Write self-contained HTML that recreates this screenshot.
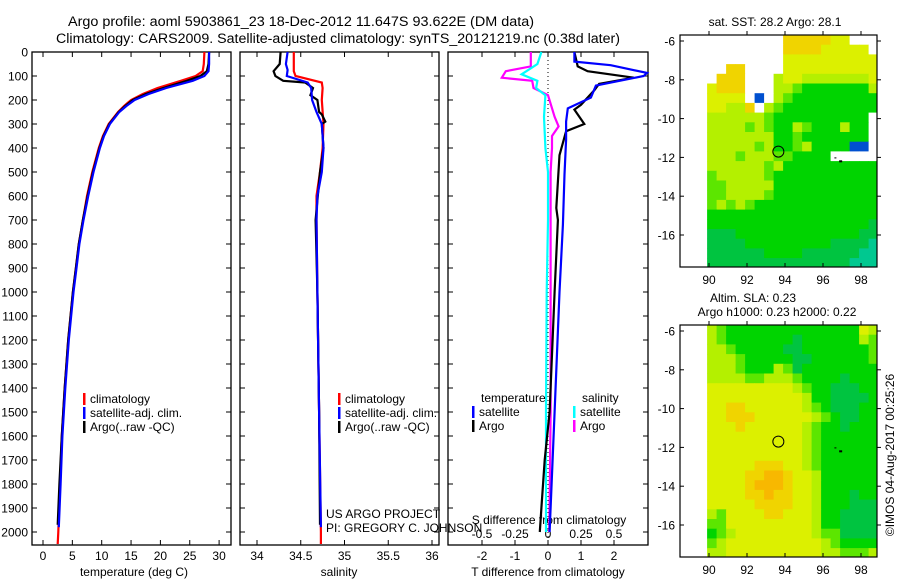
<!DOCTYPE html>
<html><head><meta charset="utf-8"><style>
html,body{margin:0;padding:0;background:#fff;}
svg{display:block;font-family:"Liberation Sans",sans-serif;}
</style></head><body>
<svg id="chart" width="900" height="580" viewBox="0 0 900 580" xmlns="http://www.w3.org/2000/svg">
<rect width="900" height="580" fill="#fff"/>
<text x="68" y="26" font-size="13.5" textLength="466" lengthAdjust="spacingAndGlyphs">Argo profile: aoml 5903861_23 18-Dec-2012 11.647S 93.622E (DM data)</text>
<text x="56" y="43" font-size="13.5" textLength="564" lengthAdjust="spacingAndGlyphs">Climatology: CARS2009. Satellite-adjusted climatology: synTS_20121219.nc (0.38d later)</text>
<g id="g"></g>
</svg>
<script>
// ---- data ----
const depthTicks=[0,100,200,300,400,500,600,700,800,900,1000,1100,1200,1300,1400,1500,1600,1700,1800,1900,2000];
const tempTicks=[0,5,10,15,20,25,30];
const salTicks=[34,34.5,35,35.5,36];
const tdTicks=[-2,-1,0,1,2];
const sdTicks=[-0.5,-0.25,0,0.25,0.5];
const sdTickLabels=["-0.5","-0.25","0","0.25","0.5"];

const tDepth=[0,50,80,100,120,150,175,200,225,250,300,350,400,500,600,700,800,900,1000,1200,1400,1600,1800,2000,2050];
const tClim=[27.5,27.4,27.2,26.0,23.5,19.5,17.0,15.0,13.8,12.8,11.2,10.2,9.5,8.4,7.5,6.8,6.1,5.6,5.1,4.3,3.7,3.2,2.9,2.6,2.5];
const tSatDepth=[0,50,80,100,120,150,175,200,225,250,300,350,400,500,600,700,800,900,1000,1200,1400,1600,1800,1980];
const tSat=[28.3,28.3,28.2,27.5,25.5,21.0,18.0,15.6,14.2,13.0,11.4,10.4,9.7,8.6,7.7,6.9,6.2,5.7,5.2,4.4,3.8,3.3,3.0,2.7];
const tArgoDepth=[0,50,80,100,120,150,175,200,225,250,300,350,400,500,600,700,800,900,1000,1200,1400,1600,1800,1970];
const tArgo=[28.3,28.2,27.9,26.8,24.5,20.5,17.5,15.3,14.0,12.9,11.3,10.3,9.6,8.5,7.6,6.8,6.1,5.6,5.1,4.3,3.7,3.2,2.8,2.5];

const sDepth=[0,80,100,127,150,200,300,400,500,600,700,1000,1500,2000,2050];
const sClim=[34.42,34.42,34.44,34.74,34.75,34.74,34.76,34.75,34.72,34.68,34.68,34.69,34.71,34.73,34.73];
const sSatDepth=[0,50,75,100,127,150,200,250,300,400,500,600,700,1000,1500,1980];
const sSat=[34.35,34.33,34.35,34.34,34.58,34.62,34.63,34.68,34.74,34.76,34.74,34.69,34.68,34.69,34.71,34.73];
const sArgoDepth=[0,50,80,100,120,127,150,180,200,250,260,290,300,400,500,700,1000,1500,1970];
const sArgo=[34.27,34.26,34.19,34.21,34.30,34.55,34.64,34.61,34.69,34.71,34.74,34.78,34.74,34.76,34.72,34.67,34.69,34.71,34.72];

const dtSatDepth=[0,40,55,87,100,140,190,235,290,365,510,720,1000,1500,2000];
const dtSat=[0.8,0.8,1.9,3.0,2.9,1.45,1.3,0.6,0.55,0.55,0.5,0.45,0.35,0.2,0.05];
const dtArgoDepth=[0,60,80,107,133,160,220,240,300,330,430,650,700,1000,1500,1700,1900,2000];
const dtArgo=[0.8,0.9,1.2,2.6,1.55,1.4,1.0,0.8,1.1,0.55,0.35,0.25,0.3,0.2,0.05,-0.1,-0.2,-0.25];
const dsArgoDepth=[0,60,80,107,120,150,180,270,310,350,400,500,700,1000,1500,2000];
const dsArgo=[-0.13,-0.13,-0.32,-0.35,-0.12,-0.11,0.0,0.05,0.08,0.03,0.03,0.02,0.02,0.02,0.02,0.01];
const dsSatDepth=[0,50,93,120,150,180,270,400,500,700,1000,1500,2000];
const dsSat=[-0.05,-0.08,-0.2,-0.08,-0.09,-0.02,-0.03,-0.02,0.0,0.0,-0.01,-0.015,-0.015];

const sstGrid=[
"wwwwwwwwYYYYYyywww","wwwwwwwwYYYYyyyyyw","wwwwwwwwyyyyyyyyyy","wwYYwwwwyyyyyyyyyy",
"wYYYwwwlyyllllllly","yYYYwwwllgGGGGGGGl","yyyywbwlgGGGGGGGGG","yyllYwlgGGGGGGGGGG",
"llllllgGGGGGGGGGGw","llllglgGGlgGGGlGGw","lllllllGGgGGGGGGGw","lllllglGGglGGGGbbw",
"lllglllggGGGGwwwww","llllllglGGGGGGGGGG","glllllgGGGGGGGGGGG","gglllllGGGGGGGGGGG",
"ggllllgGGGGGGGGGGG","glglgGGGGGGGGGGGGG","GGGGGGGGGGGGGGGGGG","GGGGGGGGGGGGGGGGGd",
"dddGGGGGGGGGGGGGdd","ddddGGGGGGGGGddddt","ddddddGGGGddddddtt","dddddddddddddddttt"];
const slaGrid=[
"lgGGGGGGGGGGGGGGyl","lgGGGGGGGdGGGGGGlg","llgGGGGGddGGGGGGGg","lllgGGGGGddGGGGGGg",
"lllgGGGlgdGGGGGGGG","llllgglllgGGGGdGGG","yyyyyyyyylgGGdddGG","yyyyyyyyyylGGddddG",
"yyYYyyyyyylgGdddGG","yyYYYyyyyyylgGddGG","yyyYyyyyyylgGGdGGG","yyyyyyyyyylgGGGGGG",
"yyyyyyyyyylgGGGGGG","yyyyyyyyyylgGGGGGG","yyyyyYYYyylgGGGGGG","yyyyYYOOYyylGGGGGG",
"yyyyYOOOYyylGGGGGG","yyyyYYOYYyylGGGdGG","yyyyyYYYYyylGGGddd","lgyyyyYYyyylGGdddd",
"ggyyyyyyyyylGGdddd","Gglyyyyyyyylggdddd","glyyyyyyyyyylgGGGG","llyyyyyyyyyyllgggl"];
const mapLonTicks=[90,92,94,96,98];
const mapLatTicks=[-6,-8,-10,-12,-14,-16];
const argoLon=93.65, argoLat=-11.7;

// ---- helpers ----
const NS="http://www.w3.org/2000/svg";
const G=document.getElementById('g');
function mk(tag,attrs,parent){const e=document.createElementNS(NS,tag);for(const k in attrs)e.setAttribute(k,attrs[k]);(parent||G).appendChild(e);return e;}
const TOP=52, PXM=0.24, BOT=545;
const yD=d=>TOP+d*PXM;
const xT=t=>43+t*5.87;
const xS=s=>257+(s-34)*87.5;
const xDT=v=>548+v*33;
const xDS=v=>548+v*132;

// panels
const panels=[[32,231,'temperature-panel'],[240,439,'salinity-panel'],[448,648,'difference-panel']];
panels.forEach(p=>{
  const r=mk('rect',{x:p[0],y:TOP,width:p[1]-p[0],height:BOT-TOP,fill:'none',stroke:'#000','stroke-width':1.3});
  
  
  depthTicks.forEach(d=>{
    mk('line',{x1:p[0],x2:p[0]+5,y1:yD(d),y2:yD(d),stroke:'#000'});
    mk('line',{x1:p[1],x2:p[1]-5,y1:yD(d),y2:yD(d),stroke:'#000'});
  });
});
depthTicks.forEach(d=>{
  const t=mk('text',{x:28,y:yD(d)+4.5,'font-size':12,'text-anchor':'end'});
  t.textContent=d;
  
  
});
function xTicks(vals,fx,labels,y0,ly){
  vals.forEach((v,i)=>{
    mk('line',{x1:fx(v),x2:fx(v),y1:BOT,y2:BOT-5,stroke:'#000'});
    mk('line',{x1:fx(v),x2:fx(v),y1:TOP,y2:TOP+5,stroke:'#000'});
    const t=mk('text',{x:fx(v),y:ly,'font-size':12,'text-anchor':'middle'});
    t.textContent=labels?labels[i]:v;
    
    
  });
}
xTicks(tempTicks,xT,null,BOT,560);
xTicks(salTicks,xS,null,BOT,560);
xTicks(tdTicks,xDT,null,BOT,560);
sdTicks.forEach((v,i)=>{
  const t=mk('text',{x:xDS(v),y:538,'font-size':12,'text-anchor':'middle'});
  t.textContent=sdTickLabels[i];
  
  
});
function label(txt,x,y,name,anchor){
  const t=mk('text',{x:x,y:y,'font-size':12,'text-anchor':anchor||'middle'});
  t.textContent=txt;
  
  
  return t;
}
label('temperature (deg C)',134,576,'x-axis-title-temperature');
label('salinity',339,576,'x-axis-title-salinity');
label('T difference from climatology',548,576,'x-axis-title-t-difference');
label('S difference from climatology',549,524,'s-difference-title');
mk('line',{x1:548,x2:548,y1:TOP,y2:BOT,stroke:'#000','stroke-dasharray':'1,3'});

function line(ds,vs,fx,color,name){
  const pts=ds.map((d,i)=>fx(vs[i]).toFixed(1)+','+yD(d).toFixed(1)).join(' ');
  const pl=mk('polyline',{points:pts,fill:'none',stroke:color,'stroke-width':2.2,'stroke-linejoin':'miter'});
  
  
}
line(tDepth,tClim,xT,'#ff0000','temperature-climatology-line');
line(tArgoDepth,tArgo,xT,'#000','temperature-argo-line');
line(tSatDepth,tSat,xT,'#0000ff','temperature-satellite-line');
line(sDepth,sClim,xS,'#ff0000','salinity-climatology-line');
line(sArgoDepth,sArgo,xS,'#000','salinity-argo-line');
line(sSatDepth,sSat,xS,'#0000ff','salinity-satellite-line');
line(dsArgoDepth,dsArgo,xDS,'#ff00ff','s-diff-argo-line');
line(dsSatDepth,dsSat,xDS,'#00ffff','s-diff-satellite-line');
line(dtArgoDepth,dtArgo,xDT,'#000','t-diff-argo-line');
line(dtSatDepth,dtSat,xDT,'#0000ff','t-diff-satellite-line');

// legends
function legend(x,y,color,txt,name){
  mk('rect',{x:x,y:y-10,width:2.5,height:12,fill:color});
  const t=label(txt,x+7,y,name,'start');
}
[[83,'#ff0000','climatology'],[83,'#0000ff','satellite-adj. clim.'],[83,'#000','Argo(..raw -QC)']].forEach((l,i)=>legend(l[0],403+i*14,l[1],l[2],'legend-entry'));
[[338,'#ff0000','climatology'],[338,'#0000ff','satellite-adj. clim.'],[338,'#000','Argo(..raw -QC)']].forEach((l,i)=>legend(l[0],403+i*14,l[1],l[2],'legend-entry'));
label('temperature',481,402,'legend-title-temperature','start');
label('salinity',582,402,'legend-title-salinity','start');
legend(472,416,'#0000ff','satellite','legend-entry');
legend(472,430,'#000','Argo','legend-entry');
legend(573,416,'#00ffff','satellite','legend-entry');
legend(573,430,'#ff00ff','Argo','legend-entry');
label('US ARGO PROJECT',326,518,'credit-project','start');
label('PI: GREGORY C. JOHNSON',326,532,'credit-pi','start');

// maps
const colors={w:'#ffffff',Y:'#f0d400',y:'#dcf000',l:'#b4f000',g:'#5ce600',G:'#00d400',d:'#00c440',t:'#00c890',b:'#0050d0',O:'#f8b800'};
function map(top,grid,name){
  const xL=lon=>709+(lon-90)*19;
  const yL=lat=>top+6+(-6-lat)*19.4;
  const gm=mk('g',{});
  
  
  grid.forEach((row,r)=>{
    for(let c=0;c<row.length;c++){
      const lon0=89.9+c*0.5, lat0=-5.69-r*0.5;
      const x0=xL(lon0), y0=yL(lat0);
      const w=Math.min(xL(lon0+0.5),877)-x0, h=Math.min(yL(lat0-0.5),top+232)-y0;
      mk('rect',{x:x0.toFixed(1),y:y0.toFixed(1),width:(w+0.4).toFixed(1),height:(h+0.4).toFixed(1),fill:colors[row[c]]},gm);
    }
  });
  mk('rect',{x:680,y:top,width:197,height:232,fill:'none',stroke:'#000','stroke-width':1.2});
  mapLonTicks.forEach(l=>{
    mk('line',{x1:xL(l),x2:xL(l),y1:top+232,y2:top+228,stroke:'#000'});
    mk('line',{x1:xL(l),x2:xL(l),y1:top,y2:top-4,stroke:'#000'});
    const t=label(String(l),xL(l),top+249,'map-lon-tick-label');
  });
  mapLatTicks.forEach(l=>{
    mk('line',{x1:680,x2:684,y1:yL(l),y2:yL(l),stroke:'#000'});
    mk('line',{x1:877,x2:881,y1:yL(l),y2:yL(l),stroke:'#000'});
    label(String(l),675,yL(l)+4.5,'map-lat-tick-label','end');
  });
  const c=mk('circle',{cx:xL(argoLon),cy:yL(argoLat),r:5.5,fill:'none',stroke:'#000','stroke-width':1});
  
  
  mk('rect',{x:xL(96.85),y:yL(-12.15),width:3,height:2,fill:'#000'});
  mk('rect',{x:xL(96.6),y:yL(-12.0),width:2,height:1,fill:'#000'});
}
map(35,sstGrid,'sst-map');
map(325,slaGrid,'sla-map');
label('sat. SST: 28.2 Argo: 28.1',775,26,'sst-map-title');
label('Altim. SLA: 0.23',753,302,'sla-map-title');
label('Argo h1000: 0.23 h2000: 0.22',777,316,'sla-map-subtitle');
const ts=label('©IMOS 04-Aug-2017 00:25:26',0,0,'timestamp');
ts.setAttribute('transform','translate(894,455) rotate(-90)');
</script>
</body></html>
